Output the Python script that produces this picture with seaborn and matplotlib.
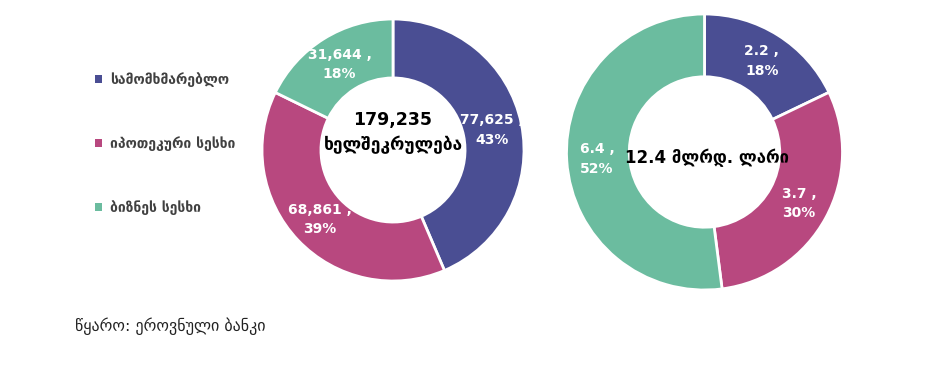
import matplotlib
matplotlib.use("Agg")
import matplotlib.pyplot as plt
import seaborn as sns
from matplotlib.patches import Patch

sns.set_theme(style="white")
plt.rcParams['font.family'] = ['DejaVu Sans']

categories = ["სამომხმარებლო", "იპოთეკური სესხი", "ბიზნეს სესხი"]
contracts = [77625, 68861, 31644]
contracts_labels = ["77,625 ,", "68,861 ,", "31,644 ,"]
contracts_pct = ["43%", "39%", "18%"]
amounts = [2.2, 3.7, 6.4]
amounts_labels = ["2.2 ,", "3.7 ,", "6.4 ,"]
amounts_pct = ["18%", "30%", "52%"]
center_left = "179,235\nხელშეკრულება"
center_right = "12.4 მლრდ. ლარი"
source = "წყარო: ეროვნული ბანკი"

colors = ["#4A4E93", "#B8487F", "#6BBC9F"]

W, H = 938, 386
fig = plt.figure(figsize=(W / 100, H / 100), dpi=100)


def add_donut(cx, cy, r, values, vlabels, pcts, hole, pctdist):
    ax = fig.add_axes([(cx - r) / W, (H - cy - r) / H, 2 * r / W, 2 * r / H])
    it = iter([f"{a}\n{b}" for a, b in zip(vlabels, pcts)])
    ax.pie(
        values, colors=colors, startangle=90, counterclock=False,
        radius=1, wedgeprops=dict(width=1 - hole, edgecolor="white", linewidth=2),
        autopct=lambda p: next(it), pctdistance=pctdist,
        textprops=dict(color="white", fontsize=10, fontweight="bold", linespacing=1.5))
    ax.set_aspect("equal")
    ax.set_xlim(-1, 1)
    ax.set_ylim(-1, 1)
    ax.axis("off")
    return ax


axl = add_donut(393, 150, 131, contracts, contracts_labels, contracts_pct, 0.55, 0.77)
axl.text(0, 0.135, center_left, ha="center", va="center", fontsize=12.5,
         fontweight="bold", color="black", linespacing=1.45)
axr = add_donut(704.5, 152, 138, amounts, amounts_labels, amounts_pct, 0.545, 0.78)
axr.text(0.02, -0.04, center_right, ha="center", va="center", fontsize=12,
         fontweight="bold", color="black")

handles = [Patch(facecolor=c, edgecolor="none") for c in colors]
fig.legend(handles, categories, loc="upper left", bbox_to_anchor=(88 / W, 1 - 65 / H),
           frameon=False, labelcolor="#404040", handlelength=0.5,
           handleheight=0.5, handletextpad=0.6, labelspacing=3.55, borderpad=0,
           prop=dict(weight="bold", size=10))

fig.text(75 / W, 1 - 326 / H, source, ha="left", va="center", fontsize=11.5, color="#222222")

fig.savefig("out.png", dpi=100, facecolor="white")
